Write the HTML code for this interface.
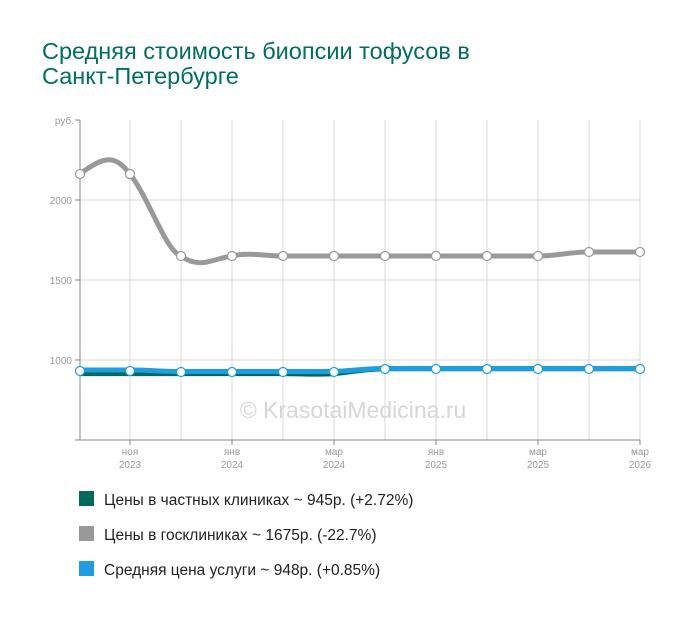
<!DOCTYPE html>
<html><head><meta charset="utf-8"><style>
body{margin:0;background:#fff;width:700px;height:617px;overflow:hidden;font-family:"Liberation Sans",sans-serif}
</style></head><body>
<svg width="700" height="617" xmlns="http://www.w3.org/2000/svg" font-family="Liberation Sans, sans-serif">
<text x="42" y="59" font-size="23.5" fill="#006e63">Средняя стоимость биопсии тофусов в</text>
<text x="42" y="84" font-size="23.5" fill="#006e63">Санкт-Петербурге</text>
<g stroke="#d8d8d8" stroke-width="1">
<line x1="80" y1="200" x2="640" y2="200"/><line x1="80" y1="280" x2="640" y2="280"/><line x1="80" y1="360" x2="640" y2="360"/>
<line x1="130" y1="120" x2="130" y2="440"/><line x1="181" y1="120" x2="181" y2="440"/><line x1="232" y1="120" x2="232" y2="440"/><line x1="283" y1="120" x2="283" y2="440"/><line x1="334" y1="120" x2="334" y2="440"/><line x1="385" y1="120" x2="385" y2="440"/><line x1="436" y1="120" x2="436" y2="440"/><line x1="487" y1="120" x2="487" y2="440"/><line x1="538" y1="120" x2="538" y2="440"/><line x1="589" y1="120" x2="589" y2="440"/><line x1="640" y1="120" x2="640" y2="440"/>
</g>
<g stroke="#888" stroke-width="1">
<line x1="80" y1="120" x2="80" y2="440"/><line x1="80" y1="440" x2="640" y2="440"/>
<line x1="75" y1="120" x2="80" y2="120"/><line x1="75" y1="200" x2="80" y2="200"/><line x1="75" y1="280" x2="80" y2="280"/><line x1="75" y1="360" x2="80" y2="360"/><line x1="75" y1="440" x2="80" y2="440"/>
<line x1="130" y1="440" x2="130" y2="445"/><line x1="232" y1="440" x2="232" y2="445"/><line x1="334" y1="440" x2="334" y2="445"/><line x1="436" y1="440" x2="436" y2="445"/><line x1="538" y1="440" x2="538" y2="445"/><line x1="640" y1="440" x2="640" y2="445"/>
</g>
<g font-size="10" fill="#999" text-anchor="end">
<text x="74" y="124">руб.</text><text x="72" y="204">2000</text><text x="72" y="284">1500</text><text x="72" y="364">1000</text>
</g>
<g font-size="10" fill="#999" text-anchor="middle">
<text x="130" y="455">ноя</text><text x="130" y="468">2023</text>
<text x="232" y="455">янв</text><text x="232" y="468">2024</text>
<text x="334" y="455">мар</text><text x="334" y="468">2024</text>
<text x="436" y="455">янв</text><text x="436" y="468">2025</text>
<text x="538" y="455">мар</text><text x="538" y="468">2025</text>
<text x="640" y="455">мар</text><text x="640" y="468">2026</text>
</g>
<text x="353" y="418" font-size="23" fill="#d6d6d6" text-anchor="middle">© KrasotaiMedicina.ru</text>
<path d="M80,174 C105,155 115,155 130,174 C150,200 165,250 181,256 C200,270 215,258 232,256 C250,252 265,256 283,256 L538,256 C555,256 570,252 589,252 L640,252" fill="none" stroke="#999" stroke-width="5"/>
<path d="M80,373.6 L283,373.6 C300,373.6 315,375 334,373.6 C350,372 365,369 385,368.8 L640,368.8" fill="none" stroke="#00695c" stroke-width="5"/>
<path d="M80,370 L130,370 C150,370 160,371.5 181,371.5 L283,371.5 L334,371.5 C350,371 365,368.5 385,368.5 L640,368.5" fill="none" stroke="#1e9de0" stroke-width="5"/>
<g fill="#fff" stroke="#999" stroke-width="1.2">
<circle cx="80" cy="174" r="4.5"/><circle cx="130" cy="174" r="4.5"/><circle cx="181" cy="256" r="4.5"/><circle cx="232" cy="256" r="4.5"/><circle cx="283" cy="256" r="4.5"/><circle cx="334" cy="256" r="4.5"/><circle cx="385" cy="256" r="4.5"/><circle cx="436" cy="256" r="4.5"/><circle cx="487" cy="256" r="4.5"/><circle cx="538" cy="256" r="4.5"/><circle cx="589" cy="252" r="4.5"/><circle cx="640" cy="252" r="4.5"/>
</g>
<g fill="#fff" stroke="#1e9de0" stroke-width="1.2">
<circle cx="80" cy="371" r="4.5"/><circle cx="130" cy="371" r="4.5"/><circle cx="181" cy="372" r="4.5"/><circle cx="232" cy="372" r="4.5"/><circle cx="283" cy="372" r="4.5"/><circle cx="334" cy="372" r="4.5"/><circle cx="385" cy="369" r="4.5"/><circle cx="436" cy="369" r="4.5"/><circle cx="487" cy="369" r="4.5"/><circle cx="538" cy="369" r="4.5"/><circle cx="589" cy="369" r="4.5"/><circle cx="640" cy="369" r="4.5"/>
</g>
<rect x="79" y="491" width="15" height="15" fill="#00695c"/>
<text x="104" y="505" font-size="15.5" fill="#222">Цены в частных клиниках ~ 945р. (+2.72%)</text>
<rect x="79" y="526" width="15" height="15" fill="#999"/>
<text x="104" y="540" font-size="15.5" fill="#222">Цены в госклиниках ~ 1675р. (-22.7%)</text>
<rect x="79" y="561" width="15" height="15" fill="#1e9de0"/>
<text x="104" y="575" font-size="15.5" fill="#222">Средняя цена услуги ~ 948р. (+0.85%)</text>
</svg>
</body></html>
